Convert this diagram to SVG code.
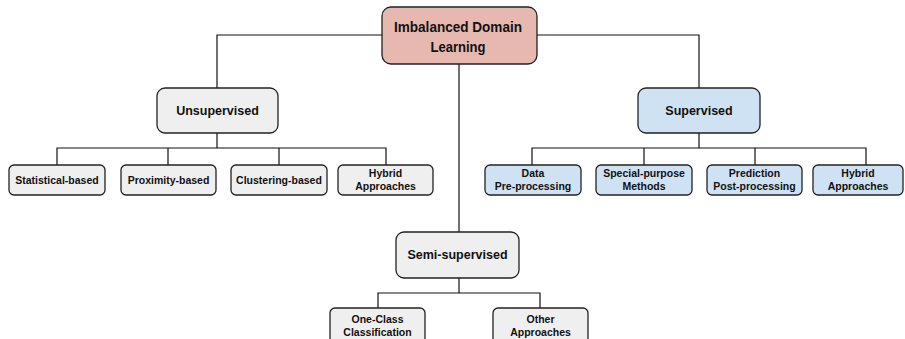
<svg xmlns="http://www.w3.org/2000/svg" width="905" height="339" viewBox="0 0 905 339">
<style>
.n{stroke:#222;stroke-width:1.3}
.g{fill:#efefef}
.b{fill:#cfe2f3}
.r{fill:#e6b8af}
text{font-family:"Liberation Sans",Arial,sans-serif;font-weight:bold;fill:#111;text-anchor:middle}
.t1{font-size:14px}
.t2{font-size:12.5px}
.t3{font-size:10.5px}
.c{fill:none;stroke:#111;stroke-width:1.2}
</style>
<rect width="905" height="339" fill="#fff"/>
<g id="connectors">
<path class="c" d="M382,35 H217 V88 M537,35 H699 V88 M459,64 V232"/>
<path class="c" d="M217,133 V148 M57,165 V148 H386 V165 M168,148 V165 M279,148 V165"/>
<path class="c" d="M699,133 V148 M532,165 V148 H866 V165 M644,148 V165 M755,148 V165"/>
<path class="c" d="M459,278 V293 M378,308 V293 H540 V308"/>
</g>
<g id="root"><rect class="n r" x="382" y="7" width="155" height="57" rx="9"/><text class="t1" x="458" y="32" textLength="128" lengthAdjust="spacingAndGlyphs">Imbalanced Domain</text><text class="t1" x="458" y="52" textLength="55" lengthAdjust="spacingAndGlyphs">Learning</text></g>
<g id="unsupervised"><rect class="n g" x="157" y="88" width="121" height="45" rx="8"/><text class="t2" x="217.5" y="115">Unsupervised</text></g>
<g id="supervised"><rect class="n b" x="638" y="88" width="122" height="45" rx="8"/><text class="t2" x="699" y="115">Supervised</text></g>
<g id="semi"><rect class="n g" x="396" y="232" width="123" height="46" rx="8"/><text class="t2" x="457.5" y="259">Semi-supervised</text></g>
<g id="statistical"><rect class="n g" x="9" y="165" width="96" height="30" rx="5"/><text class="t3" x="57" y="184">Statistical-based</text></g>
<g id="proximity"><rect class="n g" x="121" y="165" width="95" height="30" rx="5"/><text class="t3" x="168.5" y="184">Proximity-based</text></g>
<g id="clustering"><rect class="n g" x="231" y="165" width="96" height="30" rx="5"/><text class="t3" x="279" y="184">Clustering-based</text></g>
<g id="hybrid-u"><rect class="n g" x="338" y="165" width="95" height="30" rx="5"/><text class="t3" x="385.5" y="177">Hybrid</text><text class="t3" x="385.5" y="190">Approaches</text></g>
<g id="data"><rect class="n b" x="485" y="165" width="96" height="30" rx="5"/><text class="t3" x="533" y="177">Data</text><text class="t3" x="533" y="190">Pre-processing</text></g>
<g id="special"><rect class="n b" x="596" y="165" width="96" height="30" rx="5"/><text class="t3" x="644" y="177">Special-purpose</text><text class="t3" x="644" y="190">Methods</text></g>
<g id="prediction"><rect class="n b" x="707" y="165" width="95" height="30" rx="5"/><text class="t3" x="754.5" y="177">Prediction</text><text class="t3" x="754.5" y="190">Post-processing</text></g>
<g id="hybrid-s"><rect class="n b" x="813" y="165" width="90" height="30" rx="5"/><text class="t3" x="858" y="177">Hybrid</text><text class="t3" x="858" y="190">Approaches</text></g>
<g id="oneclass"><rect class="n g" x="330" y="308" width="95" height="40" rx="5"/><text class="t3" x="377.5" y="323">One-Class</text><text class="t3" x="377.5" y="336">Classification</text></g>
<g id="other"><rect class="n g" x="493" y="308" width="95" height="40" rx="5"/><text class="t3" x="540.5" y="323">Other</text><text class="t3" x="540.5" y="336">Approaches</text></g>
</svg>
